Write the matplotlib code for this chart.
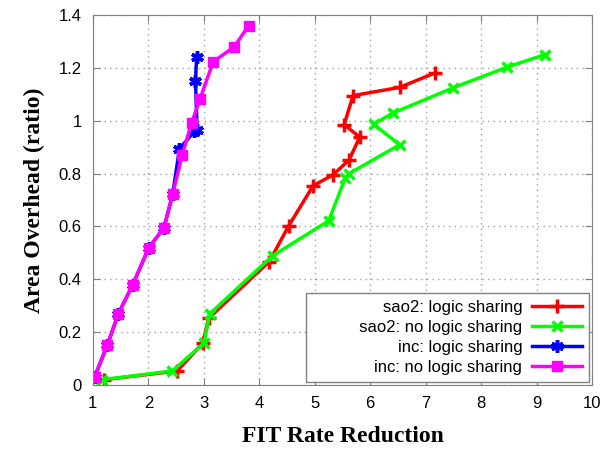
import matplotlib
matplotlib.use('Agg')
from matplotlib import pyplot as plt

# series
sao2_ls_x = [1.2, 2.52, 2.98, 3.09, 4.18, 4.53, 4.97, 5.33, 5.62, 5.81, 5.53, 5.69, 6.53, 7.16]
sao2_ls_y = [0.02, 0.053, 0.158, 0.253, 0.467, 0.602, 0.754, 0.795, 0.852, 0.938, 0.985, 1.095, 1.126, 1.18]

sao2_nls_x = [1.17, 2.43, 3.0, 3.11, 4.24, 5.25, 5.55, 5.62, 6.53, 6.06, 6.41, 7.49, 8.47, 9.15]
sao2_nls_y = [0.02, 0.053, 0.158, 0.27, 0.489, 0.621, 0.783, 0.80, 0.909, 0.987, 1.029, 1.124, 1.203, 1.25]

inc_ls_x = [1.03, 1.26, 1.46, 1.72, 2.01, 2.28, 2.44, 2.56, 2.83, 2.88, 2.85, 2.87]
inc_ls_y = [0.03, 0.15, 0.27, 0.38, 0.52, 0.594, 0.722, 0.893, 0.96, 0.965, 1.15, 1.24]

inc_nls_x = [1.03, 1.26, 1.46, 1.72, 2.01, 2.28, 2.44, 2.61, 2.78, 2.93, 3.17, 3.55, 3.81]
inc_nls_y = [0.03, 0.15, 0.27, 0.38, 0.52, 0.594, 0.722, 0.871, 0.991, 1.082, 1.223, 1.28, 1.36]

labels = ['sao2: logic sharing', 'sao2: no logic sharing',
          'inc: logic sharing', 'inc: no logic sharing']


def main():
    plt.rcParams['font.family'] = ['Liberation Sans', 'DejaVu Sans']
    fig = plt.figure(figsize=(6.03, 4.54), dpi=100)
    ax = fig.add_axes([0.154, 0.152, 0.828, 0.815])

    ax.plot(sao2_ls_x, sao2_ls_y, color='#ff0000', lw=2.5, marker='+', ms=10, mew=2.5,
            label=labels[0])
    ax.plot(sao2_nls_x, sao2_nls_y, color='#00ff00', lw=2.5, marker='x', ms=7, mew=2.5,
            label=labels[1])
    ax.plot(inc_ls_x, inc_ls_y, color='#0000ff', lw=2.5, marker=(6, 2, 0), ms=9, mew=2.5,
            label=labels[2])
    ax.plot(inc_nls_x, inc_nls_y, color='#ff00ff', lw=2.5, marker='s', ms=7,
            label=labels[3])

    ax.set_xlim(1, 10)
    ax.set_ylim(0, 1.4)
    ax.set_xticks(range(1, 11))
    ax.set_yticks([0, 0.2, 0.4, 0.6, 0.8, 1.0, 1.2, 1.4])
    ax.set_yticklabels(['0', '0.2', '0.4', '0.6', '0.8', '1', '1.2', '1.4'])
    ax.tick_params(direction='in', top=True, right=True, labelsize=12, length=5,
                   color='#808080', pad=8)
    for s in ax.spines.values():
        s.set_color('#808080')
    ax.grid(True, color='#a0a0a0', linestyle=(0, (1, 3)), lw=1)

    ax.set_xlabel('FIT Rate Reduction', family='Liberation Serif', fontweight='bold',
                  fontsize=17, labelpad=11)
    ax.set_ylabel('Area Overhead (ratio)', family='Liberation Serif', fontweight='bold',
                  fontsize=17, labelpad=10)

    # leading spaces widen the box on the left like the reference
    leg = ax.legend(loc='lower right', markerfirst=False, fontsize=12, fancybox=False,
                    handlelength=3.0, handletextpad=0.6, borderaxespad=0.2,
                    labelspacing=0.3, framealpha=1)
    leg.get_frame().set_edgecolor('#808080')
    texts = leg.get_texts()
    texts[1].set_text('          ' + labels[1])
    for t in texts:
        t.set_ha('right')

    fig.savefig('out.png', dpi=100)


if __name__ == '__main__':
    main()
